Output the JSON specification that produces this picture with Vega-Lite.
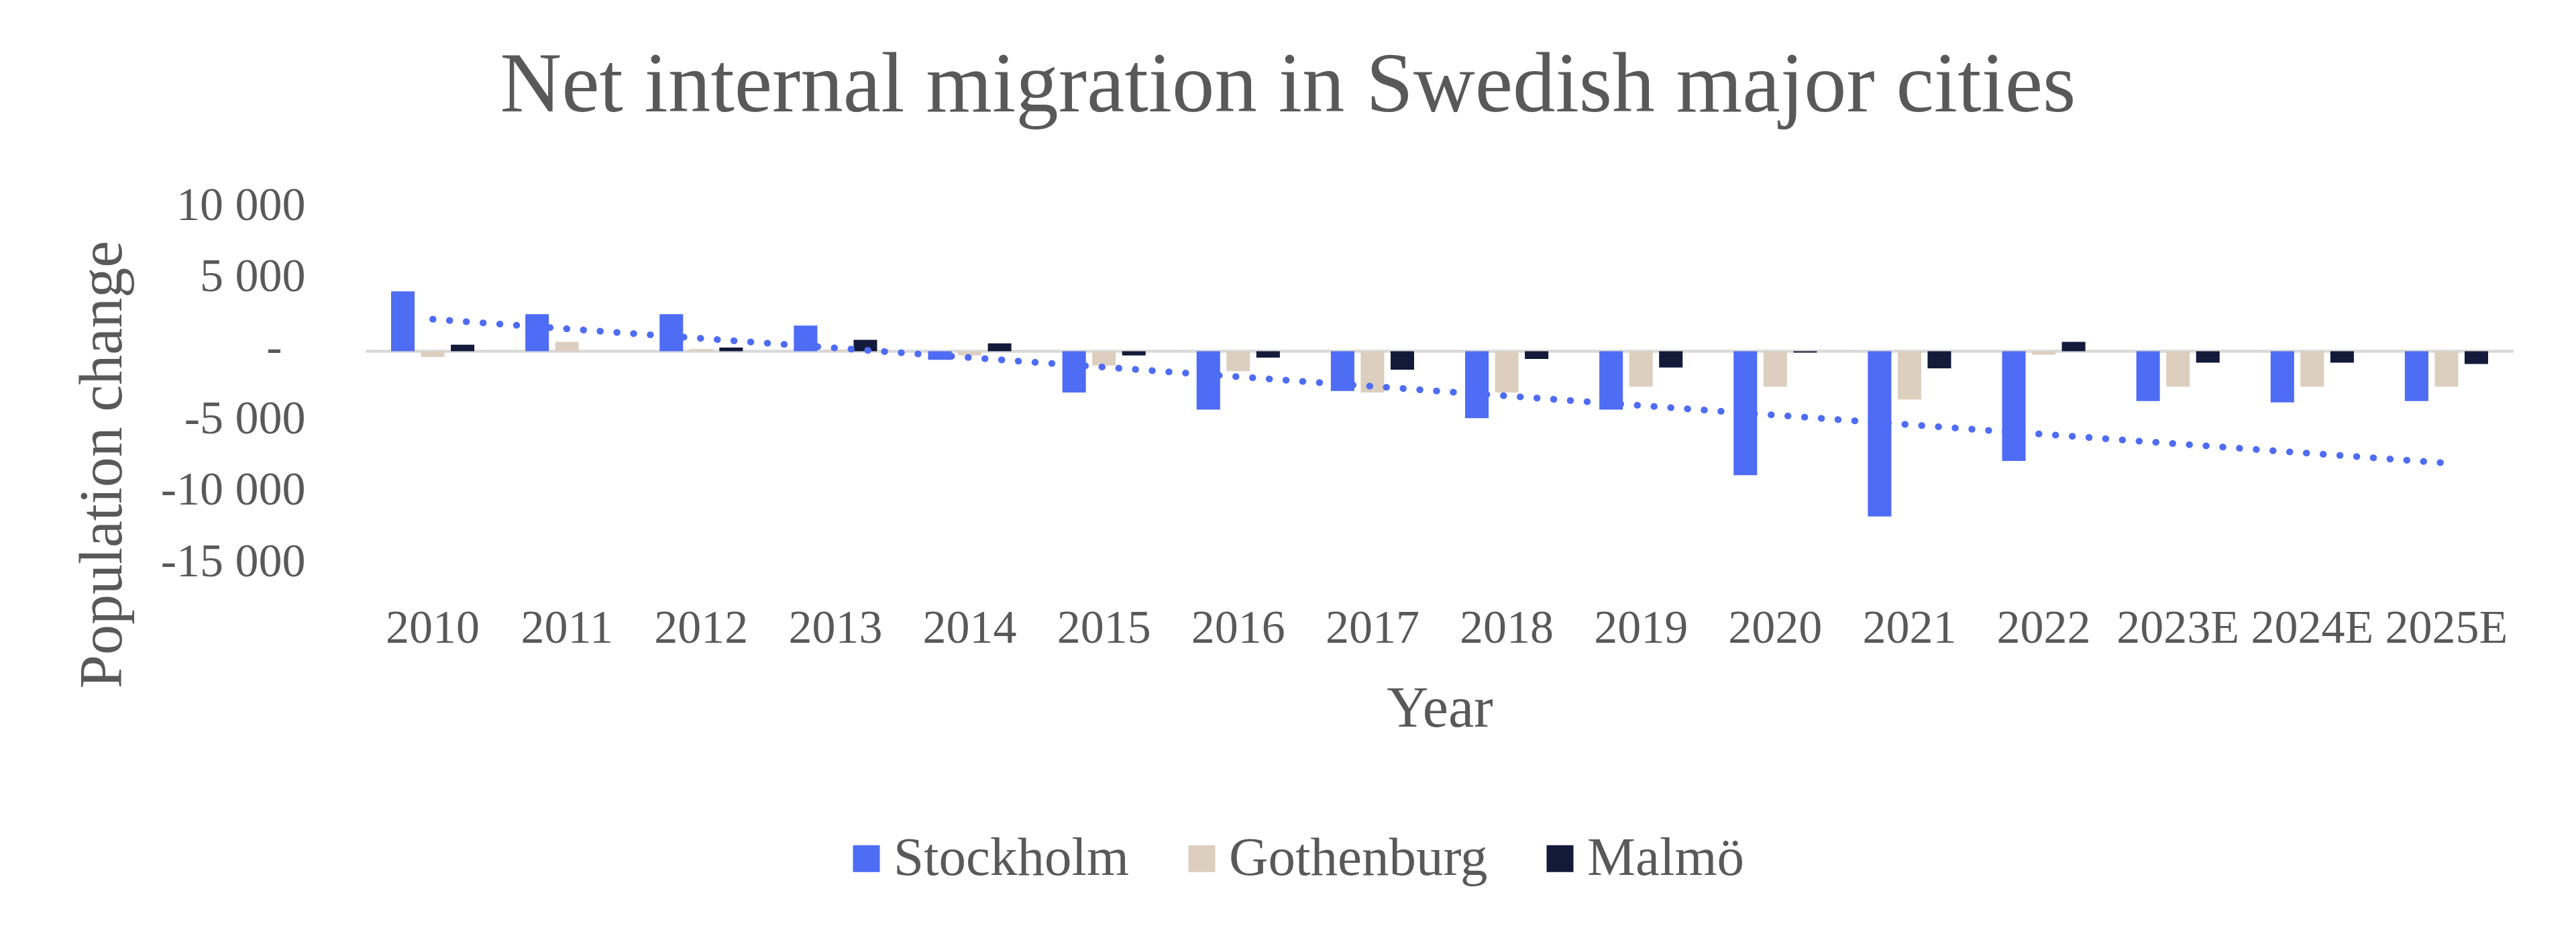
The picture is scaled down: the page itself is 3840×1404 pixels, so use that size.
{
  "$schema": "https://vega.github.io/schema/vega-lite/v6.json",
  "width": 3202,
  "height": 531,
  "autosize": {"type": "none"},
  "padding": {"left": 545, "top": 311, "right": 93, "bottom": 562},
  "background": "white",
  "title": {
    "text": "Net internal migration in Swedish major cities",
    "fontSize": 127,
    "fontWeight": "normal",
    "color": "#595959",
    "anchor": "middle",
    "dx": -226,
    "dy": 120,
    "baseline": "alphabetic",
    "offset": 98
  },
  "datasets": {
    "migration": [
      {"year": "2010", "city": "Stockholm", "value": 4200},
      {"year": "2010", "city": "Gothenburg", "value": -400},
      {"year": "2010", "city": "Malmö", "value": 450},
      {"year": "2011", "city": "Stockholm", "value": 2600},
      {"year": "2011", "city": "Gothenburg", "value": 650},
      {"year": "2011", "city": "Malmö", "value": 0},
      {"year": "2012", "city": "Stockholm", "value": 2600},
      {"year": "2012", "city": "Gothenburg", "value": 150},
      {"year": "2012", "city": "Malmö", "value": 250},
      {"year": "2013", "city": "Stockholm", "value": 1800},
      {"year": "2013", "city": "Gothenburg", "value": 100},
      {"year": "2013", "city": "Malmö", "value": 800},
      {"year": "2014", "city": "Stockholm", "value": -600},
      {"year": "2014", "city": "Gothenburg", "value": -300},
      {"year": "2014", "city": "Malmö", "value": 550},
      {"year": "2015", "city": "Stockholm", "value": -2900},
      {"year": "2015", "city": "Gothenburg", "value": -1000},
      {"year": "2015", "city": "Malmö", "value": -300},
      {"year": "2016", "city": "Stockholm", "value": -4100},
      {"year": "2016", "city": "Gothenburg", "value": -1400},
      {"year": "2016", "city": "Malmö", "value": -450},
      {"year": "2017", "city": "Stockholm", "value": -2800},
      {"year": "2017", "city": "Gothenburg", "value": -2900},
      {"year": "2017", "city": "Malmö", "value": -1300},
      {"year": "2018", "city": "Stockholm", "value": -4700},
      {"year": "2018", "city": "Gothenburg", "value": -2900},
      {"year": "2018", "city": "Malmö", "value": -550},
      {"year": "2019", "city": "Stockholm", "value": -4100},
      {"year": "2019", "city": "Gothenburg", "value": -2500},
      {"year": "2019", "city": "Malmö", "value": -1150},
      {"year": "2020", "city": "Stockholm", "value": -8700},
      {"year": "2020", "city": "Gothenburg", "value": -2500},
      {"year": "2020", "city": "Malmö", "value": -100},
      {"year": "2021", "city": "Stockholm", "value": -11600},
      {"year": "2021", "city": "Gothenburg", "value": -3400},
      {"year": "2021", "city": "Malmö", "value": -1200},
      {"year": "2022", "city": "Stockholm", "value": -7700},
      {"year": "2022", "city": "Gothenburg", "value": -250},
      {"year": "2022", "city": "Malmö", "value": 650},
      {"year": "2023E", "city": "Stockholm", "value": -3500},
      {"year": "2023E", "city": "Gothenburg", "value": -2500},
      {"year": "2023E", "city": "Malmö", "value": -800},
      {"year": "2024E", "city": "Stockholm", "value": -3600},
      {"year": "2024E", "city": "Gothenburg", "value": -2500},
      {"year": "2024E", "city": "Malmö", "value": -800},
      {"year": "2025E", "city": "Stockholm", "value": -3500},
      {"year": "2025E", "city": "Gothenburg", "value": -2500},
      {"year": "2025E", "city": "Malmö", "value": -900}
    ],
    "trend": [
      {"year": "2010", "value": 2240},
      {"year": "2025E", "value": -7850}
    ],
    "zero": [
      {"value": 0}
    ]
  },
  "layer": [
    {
      "data": {"name": "zero"},
      "mark": {"type": "rule", "color": "#D9D9D9", "strokeWidth": 4.5},
      "encoding": {
        "y": {"field": "value", "type": "quantitative", "title": "Population change"}
      }
    },
    {
      "data": {"name": "migration"},
      "mark": {"type": "bar"},
      "encoding": {
        "x": {
          "field": "year",
          "type": "nominal",
          "title": "Year",
          "scale": {
            "domain": ["2010", "2011", "2012", "2013", "2014", "2015", "2016", "2017", "2018", "2019", "2020", "2021", "2022", "2023E", "2024E", "2025E"],
            "paddingInner": 0,
            "paddingOuter": 0
          },
          "axis": {
            "labelAngle": 0,
            "domain": false,
            "ticks": false,
            "tickSize": 0,
            "grid": false,
            "labelFontSize": 70,
            "labelLimit": 1000,
            "labelPadding": 115,
            "labelBaseline": "alphabetic",
            "labelOverlap": false,
            "labelBound": false,
            "titleFontSize": 86,
            "titleFontWeight": "normal",
            "titleY": 240,
            "titleBaseline": "alphabetic"
          }
        },
        "xOffset": {
          "field": "city",
          "type": "nominal",
          "sort": ["Stockholm", "Gothenburg", "Malmö"],
          "scale": {"paddingInner": 0.213, "paddingOuter": 0.853}
        },
        "y": {
          "field": "value",
          "type": "quantitative",
          "title": "Population change",
          "scale": {"domain": [-15000, 10000], "nice": false, "zero": false},
          "axis": {
            "values": [-15000, -10000, -5000, 0, 5000, 10000],
            "domain": false,
            "ticks": false,
            "tickSize": 0,
            "grid": false,
            "labelPadding": {"condition": {"test": "datum.value == 0", "value": 125}, "value": 90},
            "labelFontSize": 70,
            "labelLimit": 1000,
            "labelOffset": -5,
            "labelExpr": "datum.value == 0 ? '-' : (datum.value < 0 ? '-' : '') + replace(format(abs(datum.value), ','), ',', ' ')",
            "titleFontSize": 90,
            "titleFontWeight": "normal",
            "titleAngle": 270,
            "titleX": -365,
            "titleY": 381,
            "titleAlign": "center",
            "titleBaseline": "alphabetic"
          }
        },
        "color": {
          "field": "city",
          "type": "nominal",
          "scale": {
            "domain": ["Stockholm", "Gothenburg", "Malmö"],
            "range": ["#4E6CF4", "#DCCFBF", "#131A3A"]
          },
          "legend": {
            "orient": "none",
            "legendX": 706,
            "legendY": 928,
            "direction": "horizontal",
            "title": null,
            "symbolType": "square",
            "symbolSize": 1600,
            "symbolStrokeWidth": 0,
            "labelFontSize": 81,
            "labelLimit": 1000,
            "labelOffset": 0,
            "columnPadding": 67,
            "padding": 0
          }
        }
      }
    },
    {
      "data": {"name": "trend"},
      "mark": {
        "type": "line",
        "color": "#4E6CF4",
        "strokeWidth": 10,
        "strokeDash": [0.5, 24.5],
        "strokeCap": "round"
      },
      "encoding": {
        "x": {"field": "year", "type": "nominal", "title": "Year"},
        "y": {"field": "value", "type": "quantitative", "title": "Population change"}
      }
    }
  ],
  "config": {
    "font": "Liberation Serif",
    "view": {"stroke": null},
    "axis": {
      "labelFont": "Liberation Serif",
      "titleFont": "Liberation Serif",
      "labelColor": "#595959",
      "titleColor": "#595959"
    },
    "legend": {
      "labelFont": "Liberation Serif",
      "labelColor": "#595959"
    },
    "title": {"font": "Liberation Serif"}
  }
}
